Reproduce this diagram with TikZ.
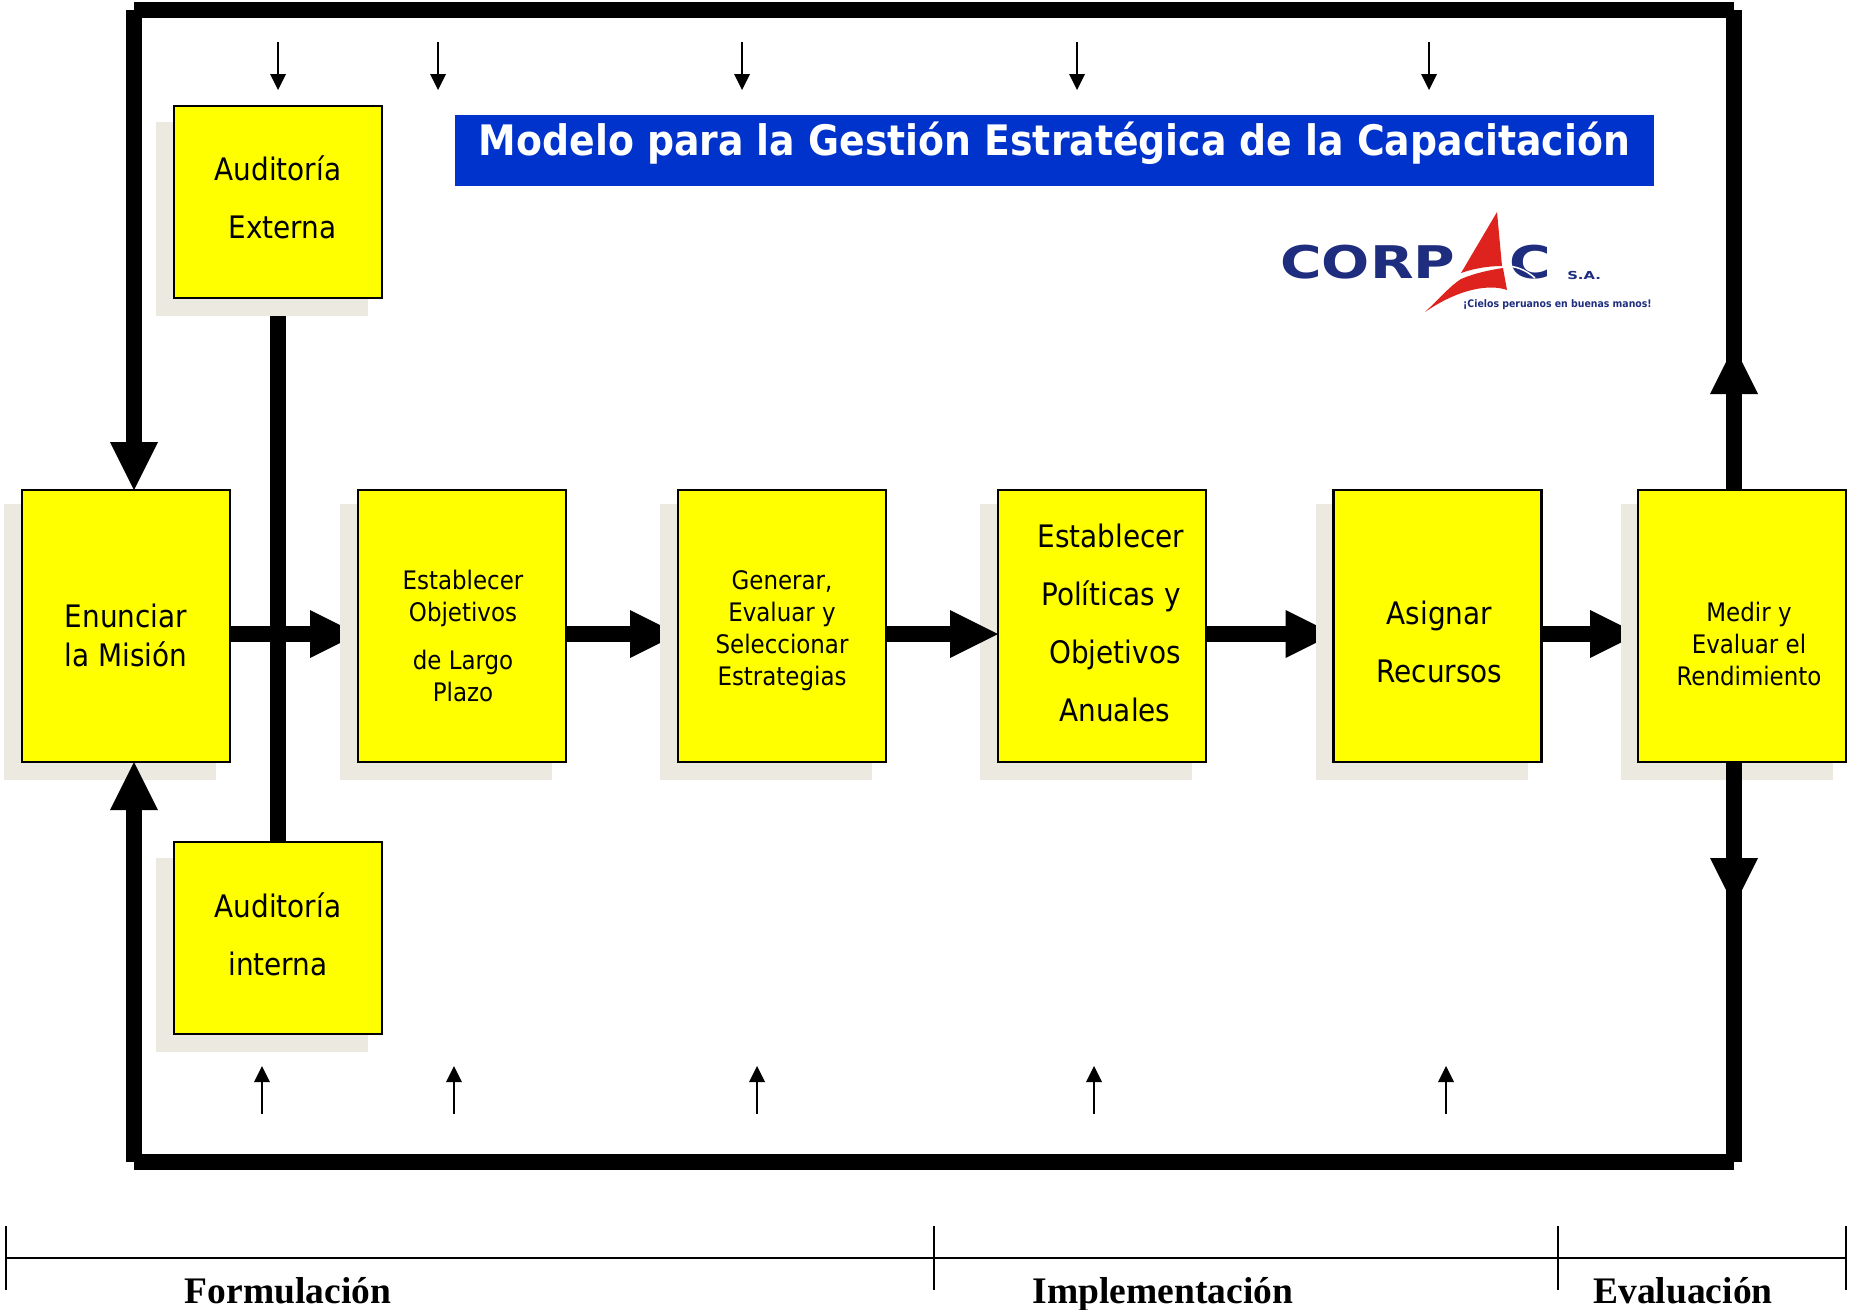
\documentclass[tikz,border=0pt]{standalone}
\usepackage{fontspec}
\setmainfont{DejaVu Sans Condensed}
\newfontfamily\serifbold{Liberation Serif}[BoldFont=Liberation Serif Bold]
\newfontfamily\logofont{DejaVu Sans}
\usetikzlibrary{positioning,arrows.meta,backgrounds}
\definecolor{boxyellow}{RGB}{255,255,0}
\definecolor{shadowgrey}{RGB}{236,233,224}
\definecolor{titleblue}{RGB}{0,51,204}
\definecolor{corpacblue}{RGB}{30,45,125}
\definecolor{corpacred}{RGB}{222,35,30}
\newcommand{\bigfont}{\fontsize{31}{58}\selectfont}
\newcommand{\smallfont}{\fontsize{25.5}{32}\selectfont}
\newcommand{\boxlines}[2]{\raisebox{#1}[0pt][0pt]{\begin{tabular}{@{}c@{}}#2\end{tabular}}}
\begin{document}
\begin{tikzpicture}[x=1pt, y=-1pt,
    step box/.style = {draw, line width=2.2pt, fill=boxyellow, minimum width=208pt, minimum height=272pt, inner sep=0pt, outer sep=0pt, font=\bigfont},
    audit box/.style = {step box, minimum height=192pt},
    fat/.style = {line width=16pt},
    fat arrow/.style = {fat, -{Triangle[length=48pt, width=48pt, line width=0pt]}},
    thin arrow/.style = {line width=2.6pt, -{Triangle[length=16pt, width=16pt, line width=0pt]}},
    scale line/.style = {line width=2pt},
    logo/.style = {text=corpacblue, inner sep=0pt, anchor=base west},
    stage/.style = {font=\serifbold\bfseries\fontsize{37.5}{40}\selectfont, anchor=base}]
  \useasboundingbox (0,0) rectangle (1852,1309);

  \node[step box] (enunciar) at (126,626) {\boxlines{-16pt}{Enunciar\\[-19pt]la Misión}};
  \node[step box, font=\smallfont] (objetivos) [right=128pt of enunciar] {\boxlines{-19pt}{\hspace*{2pt}Establecer\\\hspace*{2pt}Objetivos\\[16pt]\hspace*{2pt}de Largo\\\hspace*{2pt}Plazo}};
  \node[step box, font=\smallfont] (estrategias) [right=112pt of objetivos] {\boxlines{-11pt}{Generar,\\Evaluar y\\Seleccionar\\Estrategias}};
  \node[step box] (politicas) [right=112pt of estrategias] {\boxlines{-3pt}{\hspace*{18pt}Establecer\\\hspace*{18pt}Políticas y\\\hspace*{26pt}Objetivos\\\hspace*{26pt}Anuales}};
  \node[step box] (recursos) [right=127.5pt of politicas] {\boxlines{-22pt}{\hspace*{4pt}Asignar\\\hspace*{4pt}Recursos}};
  \node[step box, font=\smallfont] (medir) [right=96.5pt of recursos] {\boxlines{-27pt}{\hspace*{14pt}Medir y\\\hspace*{14pt}Evaluar el\\\hspace*{14pt}Rendimiento}};
  \node[audit box] (externa) at (278,202) {\boxlines{-2pt}{Auditoría\\\hspace*{9pt}Externa}};
  \node[audit box] (interna) at (278,938) {\boxlines{-3pt}{Auditoría\\interna}};

  % franja del titulo
  \node[fill=titleblue, text=white, minimum width=1199pt, minimum height=71pt, inner sep=0pt, font=\bfseries\fontsize{42}{44}\selectfont] (titulo) at (1054.5,150.5) {\raisebox{-5pt}[0pt][0pt]{Modelo para la Gestión Estratégica de la Capacitación}};

  % lazo exterior
  \coordinate (topleft) at (134,10);
  \coordinate (topright) at (1734,10);
  \coordinate (botleft) at (134,1162);
  \coordinate (botright) at (1734,1162);
  \draw[fat] (topleft) -- (topright);
  \draw[fat] (botleft) -- (botright);
  \draw[fat arrow] (topleft) -- (topleft |- enunciar.north);
  \draw[fat arrow] (botleft) -- (botleft |- enunciar.south);
  \draw[fat] (topright) -- (topright |- medir.north);
  \draw[fat] (botright) -- (botright |- medir.south);
  \draw[fat arrow] (topright |- medir.north) -- ++(0,-144);
  \draw[fat arrow] (botright |- medir.south) -- ++(0,144);
  \draw[fat arrow] (estrategias.east |- 0,634) -- (politicas.west |- 0,634);

  \begin{scope}[on background layer]
    \draw[fat arrow] (enunciar.east |- 0,634) -- (objetivos.west |- 0,634);
    \draw[fat arrow] (objetivos.east |- 0,634) -- (estrategias.west |- 0,634);
    \draw[fat arrow] (politicas.east |- 0,634) -- (recursos.west |- 0,634);
    \draw[fat arrow] (recursos.east |- 0,634) -- (medir.west |- 0,634);
    \draw[fat] (externa.south) -- (interna.north);
    % sombras
    \foreach \xa/\xb/\ya/\yb in {4/216/504/780, 340/552/504/780, 660/872/504/780, 980/1192/504/780, 1316/1528/504/780, 1621/1833/504/780, 156/368/122/316, 156/368/858/1052}
      \fill[shadowgrey] (\xa,\ya) rectangle (\xb,\yb);
  \end{scope}

  % flechas finas
  \foreach \x [count=\i] in {278,438,742,1077,1429} {
    \coordinate (topa\i) at (\x,42);
    \coordinate (topb\i) at (\x,90);
    \draw[thin arrow] (topa\i) -- (topb\i);
  }
  \foreach \x [count=\i] in {262,454,757,1094,1446} {
    \coordinate (bota\i) at (\x,1114);
    \coordinate (botb\i) at (\x,1066);
    \draw[thin arrow] (bota\i) -- (botb\i);
  }

  % logo
  \node[logo, font=\logofont\bfseries\fontsize{45}{45}\selectfont, xscale=1.26] (corp) at (1280,278) {CORP};
  \node[logo, font=\logofont\bfseries\fontsize{45}{45}\selectfont, xscale=1.26] (corpc) at (1509,278) {C};
  \draw[white, line width=1.5pt] (1508,266) .. controls (1520,267) and (1528,272) .. (1535,278);
  \fill[white] (1457,279) -- (1460,245) -- (1500,245) -- (1507,279) -- cycle;
  \fill[corpacred] (1497,212) -- (1461,273) .. controls (1475,268) and (1490,266) .. (1502,266) -- cycle;
  \fill[corpacred] (1425,312) .. controls (1440,298) and (1450,286) .. (1461,279) .. controls (1475,273) and (1490,270) .. (1503,268) -- (1507,290) .. controls (1490,284) and (1460,288) .. (1425,312) -- cycle;
  \node[logo, font=\logofont\bfseries\fontsize{11}{11}\selectfont, xscale=1.35] (sa) at (1567,279) {S.A.};
  \node[logo, font=\bfseries\fontsize{10.4}{11}\selectfont] (lema) at (1463,307) {¡Cielos peruanos en buenas manos!};

  % escala inferior
  \coordinate (s0) at (6,1258);
  \coordinate (s1) at (934,1258);
  \coordinate (s2) at (1558,1258);
  \coordinate (s3) at (1846,1258);
  \draw[scale line] (s0) -- (s3);
  \foreach \p in {s0,s1,s2,s3}
    \draw[scale line] ([yshift=32pt]\p) -- ([yshift=-32pt]\p);
  \node[stage] (form) at (288,1303) {Formulación};
  \node[stage] (impl) at (1163,1303) {Implementación};
  \node[stage] (eval) at (1683,1303) {Evaluación};
\end{tikzpicture}
\end{document}
